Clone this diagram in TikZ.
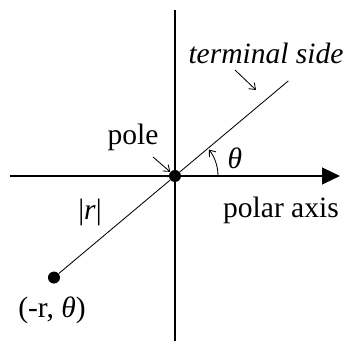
\documentclass[tikz,border=0pt]{standalone}
\usepackage{fontspec}
\setmainfont{Liberation Serif}
\usetikzlibrary{arrows.meta, positioning}
\tikzset{
  dot/.style={circle, fill=black, inner sep=0pt, minimum size=0.3cm},
  lbl/.style={font=\fontsize{21}{23}\selectfont},
  pointer/.style={-{Straight Barb[length=4pt, width=6pt]}, line width=0.6pt}
}
\begin{document}
\begin{tikzpicture}
        \useasboundingbox (-4.375,-4.125) rectangle (4.425,4.4);
        % axes
        \coordinate (top) at (0,4.15);
        \coordinate (bottom) at (0,-4.125);
        \coordinate (left) at (-4.125,0);
        \coordinate (right) at (4.125,0);
        \draw[line width=1.3pt] (bottom) -- (top);
        \draw[line width=1.3pt, -{Triangle[length=0.45cm, width=0.42cm]}] (left) -- (right);
        % pole, point and terminal side
        \node[dot] (pole) at (0,0) {};
        \node[dot] (P) at (220:3.95) {};
        \coordinate (tend) at (40:3.7);
        \draw[line width=0.6pt] (P) -- (pole) -- (tend);
        % angle
        \draw[pointer] (1.075,0) arc[start angle=0, end angle=38, radius=1.075];
        \node[lbl] (theta) at (1.5,0.45) {\itshape θ};
        % labels
        \node[lbl] (term) at (2.275,3.075) {\itshape terminal side};
        \draw[pointer] (1.5,2.65) -- (2.025,2.15);
        \node[lbl] (polelbl) at (-1.05,0.975) {pole};
        \draw[pointer] (-0.55,0.475) -- (pole);
        \node[lbl] (r) at (-2.125,-0.9) {|\textit{r}|};
        \node[lbl] (axislbl) at (2.65,-0.85) {polar axis};
        \node[lbl] (coord) at (-3.075,-3.35) {(-r, \textit{θ})};
      \end{tikzpicture}
\end{document}
